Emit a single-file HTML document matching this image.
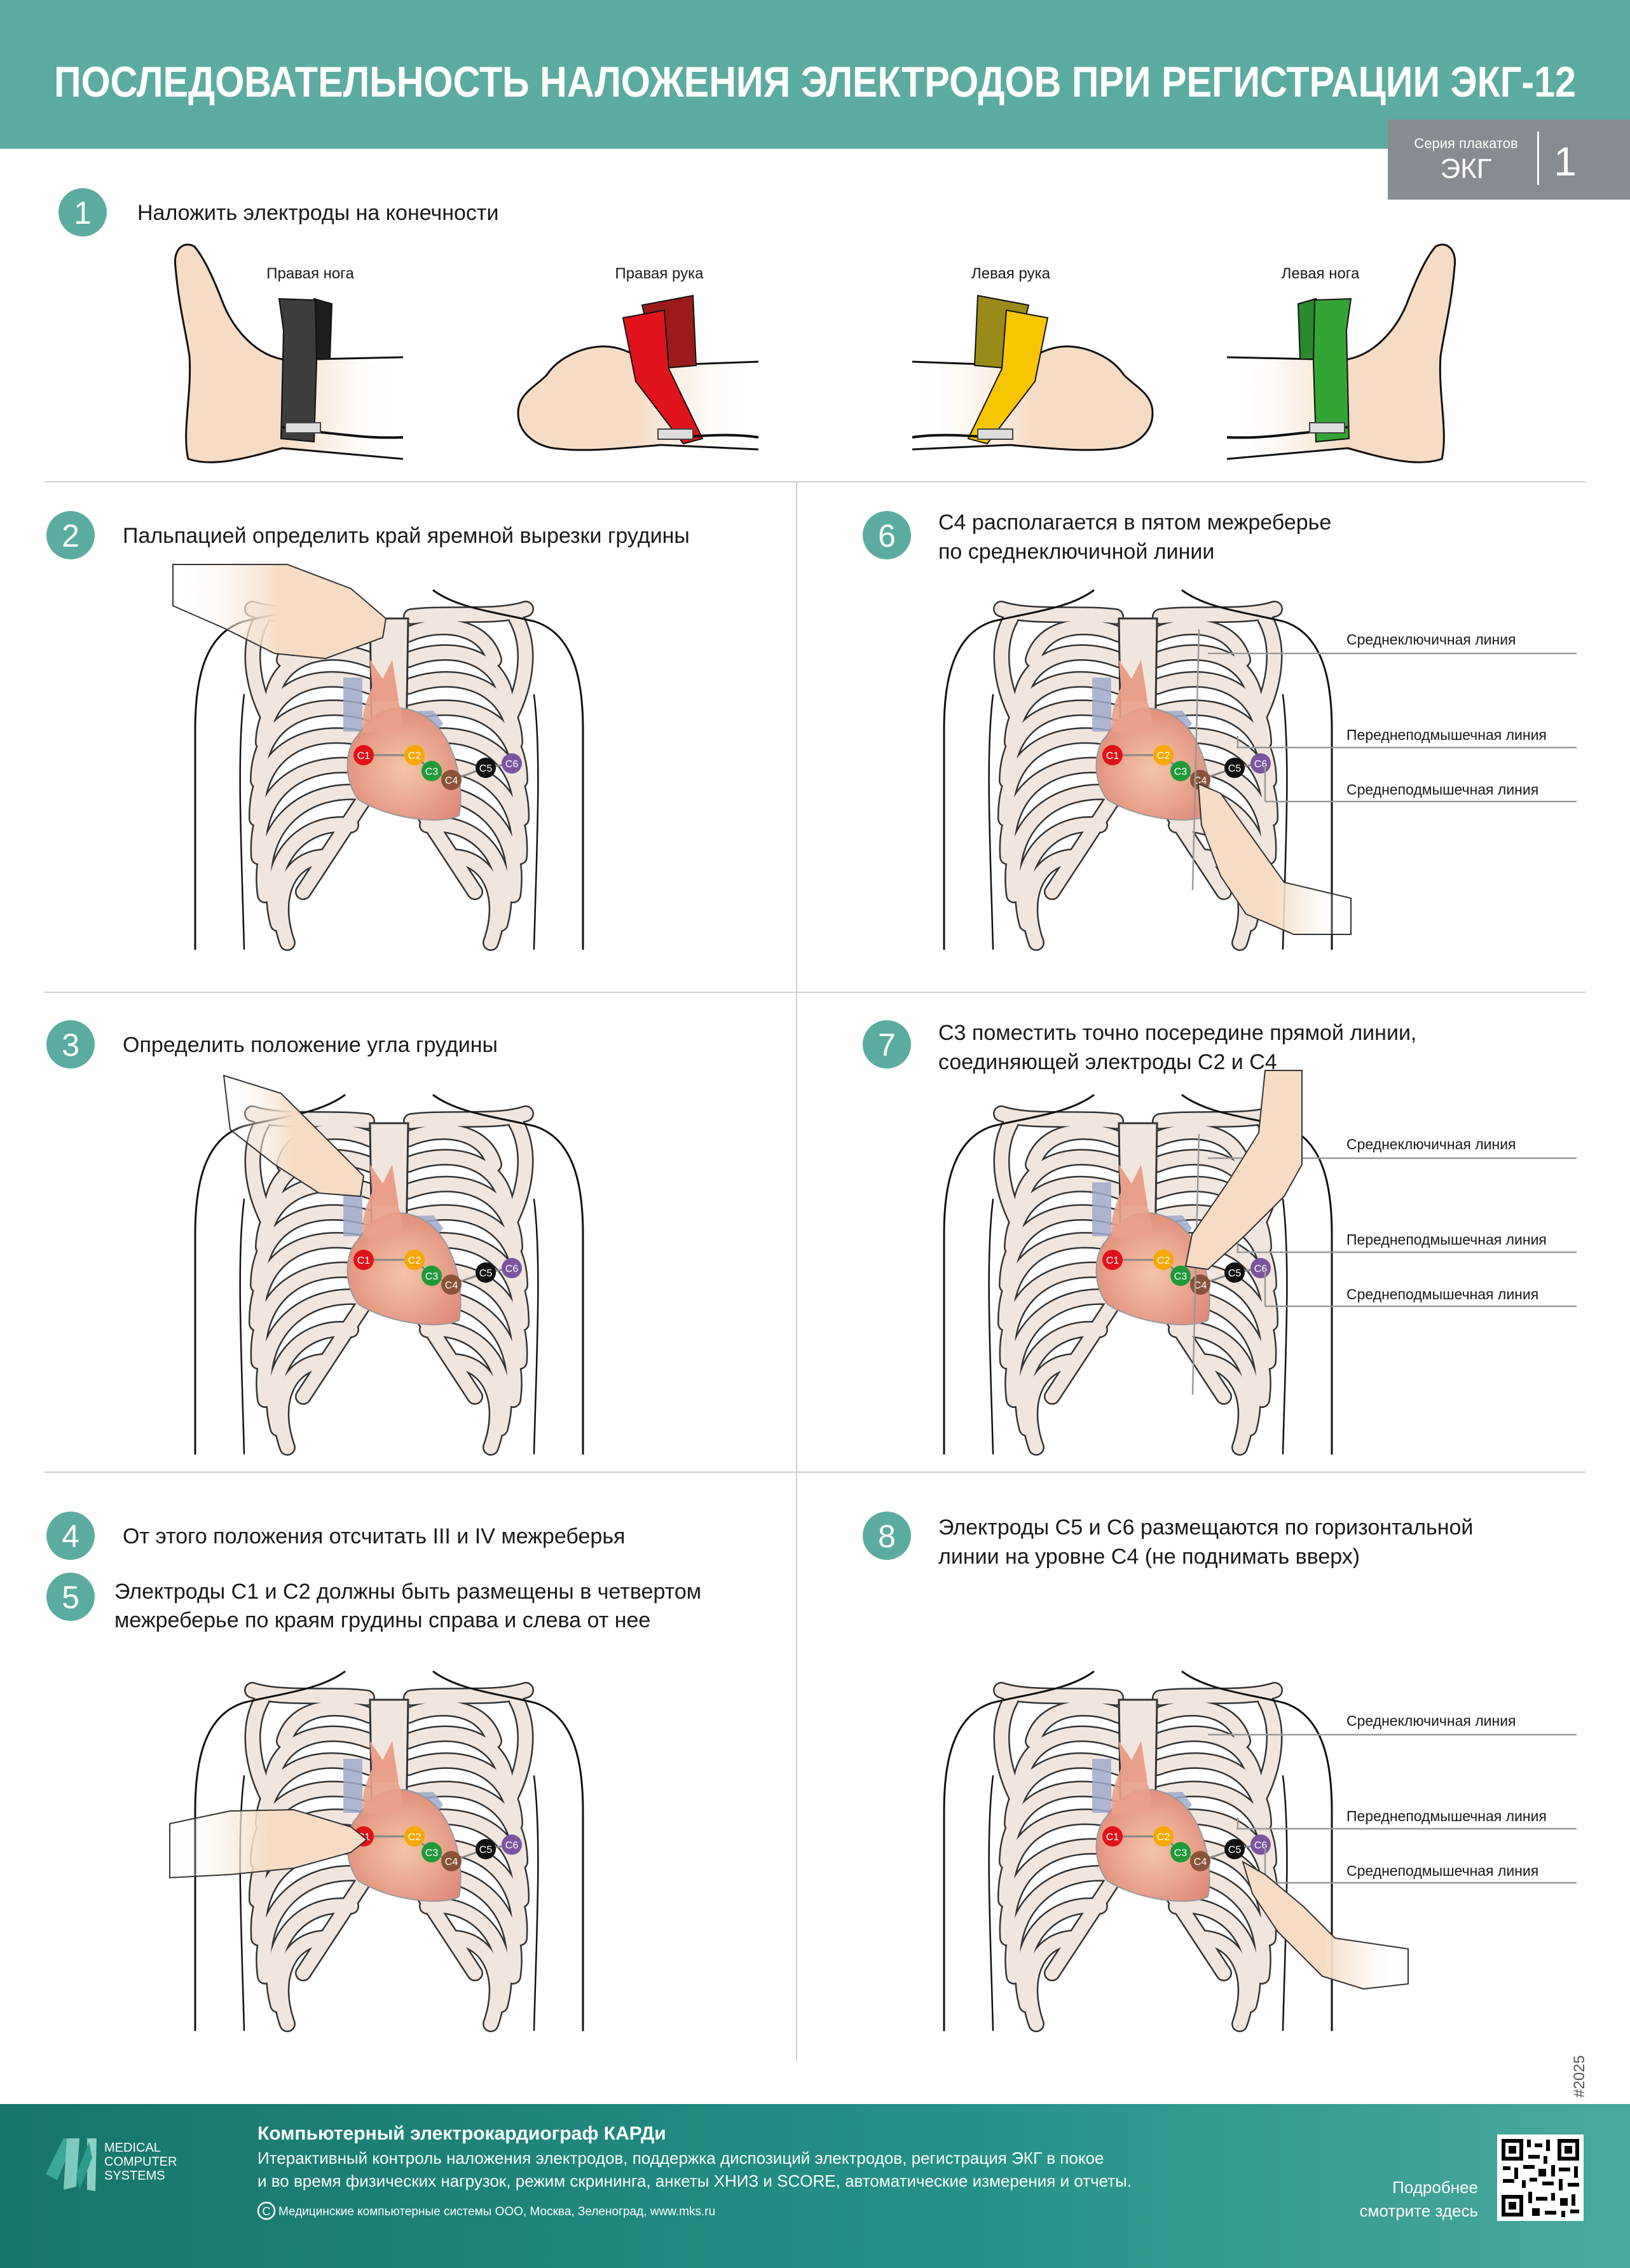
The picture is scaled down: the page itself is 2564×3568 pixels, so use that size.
<!DOCTYPE html>
<html><head><meta charset="utf-8">
<style>
html,body{margin:0;padding:0;background:#fff;}
svg{display:block;}
text{font-family:"Liberation Sans",sans-serif;}
</style></head>
<body>
<svg xmlns="http://www.w3.org/2000/svg" width="2564" height="3568" viewBox="0 0 2564 3568">
<defs>
  <radialGradient id="hg" cx="0.5" cy="0.55" r="0.6">
    <stop offset="0" stop-color="#f3c6a6"/><stop offset="1" stop-color="#e08a78"/>
  </radialGradient>
  <linearGradient id="fg" x1="0" x2="1">
    <stop offset="0" stop-color="#17756b"/><stop offset="0.6" stop-color="#25928a"/><stop offset="1" stop-color="#4aa99e"/>
  </linearGradient>
  <linearGradient id="skinL" x1="0" x2="1">
    <stop offset="0" stop-color="#fff" stop-opacity="0"/><stop offset="0.5" stop-color="#f6dcc4"/><stop offset="1" stop-color="#f6dcc4"/>
  </linearGradient>
  <linearGradient id="skinR" x1="0" x2="1">
    <stop offset="0" stop-color="#f6dcc4"/><stop offset="0.5" stop-color="#f6dcc4"/><stop offset="1" stop-color="#fff" stop-opacity="0"/>
  </linearGradient>
  <g id="ribsL" fill="none" stroke-linecap="round">
    <g stroke="#333" stroke-width="26">
      <path d="M-30,-190 C-80,-212 -150,-205 -165,-150"/>
      <path d="M-30,-150 C-100,-178 -180,-155 -185,-80"/>
      <path d="M-30,-108 C-110,-138 -195,-108 -198,-20"/>
      <path d="M-30,-66 C-120,-92 -205,-60 -206,40"/>
      <path d="M-30,-24 C-125,-48 -210,-10 -208,100"/>
      <path d="M-30,20 C-130,0 -212,50 -205,160"/>
      <path d="M-32,60 C-130,45 -210,110 -195,220"/>
      <path d="M-60,110 C-140,100 -200,170 -175,265"/>
      <path d="M-105,160 C-160,165 -185,225 -160,295"/>
      <path d="M-30,55 L-135,215"/>
      <path d="M-215,-230 C-170,-215 -90,-225 -35,-218"/>
      <path d="M-200,-215 C-225,-170 -215,-110 -190,-60"/>
    </g>
    <g stroke="#f1e6de" stroke-width="21">
      <path d="M-30,-190 C-80,-212 -150,-205 -165,-150"/>
      <path d="M-30,-150 C-100,-178 -180,-155 -185,-80"/>
      <path d="M-30,-108 C-110,-138 -195,-108 -198,-20"/>
      <path d="M-30,-66 C-120,-92 -205,-60 -206,40"/>
      <path d="M-30,-24 C-125,-48 -210,-10 -208,100"/>
      <path d="M-30,20 C-130,0 -212,50 -205,160"/>
      <path d="M-32,60 C-130,45 -210,110 -195,220"/>
      <path d="M-60,110 C-140,100 -200,170 -175,265"/>
      <path d="M-105,160 C-160,165 -185,225 -160,295"/>
      <path d="M-30,55 L-135,215"/>
      <path d="M-215,-230 C-170,-215 -90,-225 -35,-218"/>
      <path d="M-200,-215 C-225,-170 -215,-110 -190,-60"/>
    </g>
    <path d="M-70,-259 C-110,-230 -170,-225 -230,-210 C-290,-190 -305,-120 -305,-40 L-305,305" stroke="#111" stroke-width="3"/>
    <path d="M-228,-95 C-240,0 -232,150 -228,305" stroke="#111" stroke-width="2.5"/>
  </g>
  <g id="chest">
    <use href="#ribsL"/>
    <use href="#ribsL" transform="scale(-1,1)"/>
    <path d="M-30,-215 L30,-215 L26,50 L12,60 L0,85 L-12,60 L-26,50 Z" fill="#f1e6de" stroke="#333" stroke-width="3"/>
    <rect x="-72" y="-122" width="30" height="85" fill="#9fa9cc" opacity="0.85"/>
    <path d="M-30,-150 L-10,-120 L5,-150 L15,-85 L-25,-85 Z" fill="#e9a088"/>
    <path d="M-8,-68 L70,-70 L85,-50 L70,-30 L-8,-30 Z" fill="#9fa9cc" opacity="0.85"/>
    <path d="M-50,-30 C-70,-10 -72,40 -48,70 C0,100 80,110 110,95 C120,40 100,-40 50,-65 C20,-80 -20,-80 -50,-30 Z" fill="url(#hg)" stroke="#999" stroke-width="2"/>
    <path d="M-25,-110 C-40,-80 -45,-50 -40,-35 L20,-40 C25,-70 10,-100 -5,-110 Z" fill="#e9a088" opacity="0.9"/>
    <g fill="none" stroke="#888" stroke-width="3">
      <path d="M-40,0 L40,0 L67,25 L98,39 L152,20 L193,13"/>
    </g>
    <circle cx="-40" cy="0" r="16" fill="#e0121b"/>
    <circle cx="40" cy="0" r="16" fill="#f5a800"/>
    <circle cx="67" cy="25" r="16" fill="#1f9a3a"/>
    <circle cx="98" cy="39" r="16" fill="#8b5238"/>
    <circle cx="152" cy="20" r="16" fill="#111"/>
    <circle cx="193" cy="13" r="16" fill="#7b55a0"/>
    <g fill="#fff" font-size="16" text-anchor="middle">
      <text x="-40" y="6">C1</text><text x="40" y="6">C2</text><text x="67" y="31">C3</text>
      <text x="98" y="45">C4</text><text x="152" y="26">C5</text><text x="193" y="19">C6</text>
    </g>
  </g>
  <g id="lines" fill="none" stroke="#999" stroke-width="2.5">
    <path d="M110,-160 L690,-160"/>
    <path d="M155,-12 L690,-12"/>
    <path d="M200,73 L690,73"/>
    <path d="M200,15 L200,73"/>
    <path d="M157,-30 L157,-12"/>
  </g>
</defs>

<!-- header -->
<rect x="0" y="0" width="2564" height="234" fill="#5caba1"/>
<text x="1282" y="152" fill="#fff" font-size="68" font-weight="bold" text-anchor="middle" textLength="2394" lengthAdjust="spacingAndGlyphs">ПОСЛЕДОВАТЕЛЬНОСТЬ НАЛОЖЕНИЯ ЭЛЕКТРОДОВ ПРИ РЕГИСТРАЦИИ ЭКГ-12</text>
<rect x="2183" y="188" width="381" height="126" fill="#878c93"/>
<text x="2306" y="233" fill="#fff" font-size="22" text-anchor="middle">Серия плакатов</text>
<text x="2306" y="280" fill="#fff" font-size="44" text-anchor="middle">ЭКГ</text>
<rect x="2418" y="207" width="3" height="84" fill="#fff"/>
<text x="2462" y="276" fill="#fff" font-size="64" text-anchor="middle">1</text>

<!-- separators -->
<g stroke="#cfcfcf" stroke-width="2">
  <line x1="70" y1="758" x2="2494" y2="758"/>
  <line x1="70" y1="1561" x2="2494" y2="1561"/>
  <line x1="70" y1="2316" x2="2494" y2="2316"/>
  <line x1="1253" y1="758" x2="1253" y2="3242"/>
</g>

<!-- step numbers -->
<g fill="#5caba1">
  <circle cx="130" cy="334" r="38"/><circle cx="111" cy="842" r="38"/><circle cx="1395" cy="842" r="38"/>
  <circle cx="111" cy="1643" r="38"/><circle cx="1395" cy="1643" r="38"/><circle cx="111" cy="2416" r="38"/>
  <circle cx="111" cy="2512" r="38"/><circle cx="1395" cy="2416" r="38"/>
</g>
<g fill="#fff" font-size="50" text-anchor="middle">
  <text x="130" y="352">1</text><text x="111" y="860">2</text><text x="1395" y="860">6</text>
  <text x="111" y="1661">3</text><text x="1395" y="1661">7</text><text x="111" y="2434">4</text>
  <text x="111" y="2530">5</text><text x="1395" y="2434">8</text>
</g>
<g fill="#1a1a1a" font-size="34">
  <text x="216" y="346">Наложить электроды на конечности</text>
  <text x="193" y="854">Пальпацией определить край яремной вырезки грудины</text>
  <text x="1476" y="833">С4 располагается в пятом межреберье</text>
  <text x="1476" y="879">по среднеключичной линии</text>
  <text x="193" y="1655">Определить положение угла грудины</text>
  <text x="1476" y="1636">С3 поместить точно посередине прямой линии,</text>
  <text x="1476" y="1682">соединяющей электроды С2 и С4</text>
  <text x="193" y="2428">От этого положения отсчитать III и IV межреберья</text>
  <text x="180" y="2515">Электроды С1 и С2 должны быть размещены в четвертом</text>
  <text x="180" y="2560">межреберье по краям грудины справа и слева от нее</text>
  <text x="1476" y="2414">Электроды С5 и С6 размещаются по горизонтальной</text>
  <text x="1476" y="2460">линии на уровне С4 (не поднимать вверх)</text>
</g>

<!-- limbs -->
<g font-size="24" fill="#1a1a1a" text-anchor="middle">
  <text x="488" y="438">Правая нога</text><text x="1037" y="438">Правая рука</text>
  <text x="1590" y="438">Левая рука</text><text x="2077" y="438">Левая нога</text>
</g>
<g id="legL">
  <path d="M1930,562 L2115,566 C2160,560 2195,520 2212,480 C2235,420 2248,400 2258,388 C2275,378 2292,392 2288,420 C2283,480 2272,520 2266,560 C2262,620 2278,680 2268,722 C2230,735 2180,722 2120,705 L1930,722 Z" fill="url(#skinL)"/>
  <path d="M1930,562 L2115,566 C2160,560 2195,520 2212,480 C2235,420 2248,400 2258,388 C2275,378 2292,392 2288,420 C2283,480 2272,520 2266,560 C2262,620 2278,680 2268,722 C2230,735 2180,722 2120,705 L1930,722" fill="none" stroke="#111" stroke-width="3"/>
  <path d="M2042,478 L2070,470 L2072,565 L2045,565 Z" fill="#2a8a2c" stroke="#111" stroke-width="2"/>
  <path d="M2068,472 L2125,470 L2118,520 L2122,690 L2070,695 L2066,570 Z" fill="#33a535" stroke="#111" stroke-width="2"/>
  <path d="M1930,688 C1980,690 2010,685 2060,680 L2120,672" fill="none" stroke="#111" stroke-width="4"/>
  <rect x="2060" y="665" width="55" height="16" fill="#ddd" stroke="#444" stroke-width="2"/>
</g>
<g transform="translate(2564,0) scale(-1,1)">
  <path d="M1930,562 L2115,566 C2160,560 2195,520 2212,480 C2235,420 2248,400 2258,388 C2275,378 2292,392 2288,420 C2283,480 2272,520 2266,560 C2262,620 2278,680 2268,722 C2230,735 2180,722 2120,705 L1930,722 Z" fill="url(#skinL)"/>
  <path d="M1930,562 L2115,566 C2160,560 2195,520 2212,480 C2235,420 2248,400 2258,388 C2275,378 2292,392 2288,420 C2283,480 2272,520 2266,560 C2262,620 2278,680 2268,722 C2230,735 2180,722 2120,705 L1930,722" fill="none" stroke="#111" stroke-width="3"/>
  <path d="M2042,478 L2070,470 L2072,565 L2045,565 Z" fill="#1e1e1e" stroke="#111" stroke-width="2"/>
  <path d="M2068,472 L2125,470 L2118,520 L2122,690 L2070,695 L2066,570 Z" fill="#3d3d3d" stroke="#111" stroke-width="2"/>
  <path d="M1930,688 C1980,690 2010,685 2060,680 L2120,672" fill="none" stroke="#111" stroke-width="4"/>
  <rect x="2060" y="665" width="55" height="16" fill="#ddd" stroke="#444" stroke-width="2"/>
</g>
<g id="armR">
  <path d="M1193,569 L1030,575 C1000,560 980,545 950,545 C920,545 880,560 860,590 C840,610 815,620 815,650 C815,680 840,700 870,705 C920,712 980,705 1040,700 L1193,707 Z" fill="url(#skinR)"/>
  <path d="M1193,569 L1030,575 C1000,560 980,545 950,545 C920,545 880,560 860,590 C840,610 815,620 815,650 C815,680 840,700 870,705 C920,712 980,705 1040,700 L1193,707" fill="none" stroke="#111" stroke-width="3"/>
  <path d="M1010,480 L1090,465 L1095,575 L1035,580 Z" fill="#9b1b1b" stroke="#111" stroke-width="2"/>
  <path d="M980,500 L1045,488 L1052,580 L1105,690 L1075,698 L1000,600 Z" fill="#e0121b" stroke="#111" stroke-width="2"/>
  <path d="M1040,690 C1080,688 1140,680 1193,688" fill="none" stroke="#111" stroke-width="4"/>
  <rect x="1035" y="675" width="55" height="16" fill="#ddd" stroke="#444" stroke-width="2"/>
</g>
<g transform="translate(2628,0) scale(-1,1)">
  <path d="M1193,569 L1030,575 C1000,560 980,545 950,545 C920,545 880,560 860,590 C840,610 815,620 815,650 C815,680 840,700 870,705 C920,712 980,705 1040,700 L1193,707 Z" fill="url(#skinR)"/>
  <path d="M1193,569 L1030,575 C1000,560 980,545 950,545 C920,545 880,560 860,590 C840,610 815,620 815,650 C815,680 840,700 870,705 C920,712 980,705 1040,700 L1193,707" fill="none" stroke="#111" stroke-width="3"/>
  <path d="M1010,480 L1090,465 L1095,575 L1035,580 Z" fill="#9a8a1a" stroke="#111" stroke-width="2"/>
  <path d="M980,500 L1045,488 L1052,580 L1105,690 L1075,698 L1000,600 Z" fill="#f7c600" stroke="#111" stroke-width="2"/>
  <path d="M1040,690 C1080,688 1140,680 1193,688" fill="none" stroke="#111" stroke-width="4"/>
  <rect x="1035" y="675" width="55" height="16" fill="#ddd" stroke="#444" stroke-width="2"/>
</g>

<!-- chests -->
<use href="#chest" x="612" y="1188"/>
<use href="#chest" x="612" y="1982"/>
<use href="#chest" x="612" y="2889"/>
<use href="#chest" x="1790" y="1188"/>
<use href="#chest" x="1790" y="1982"/>
<use href="#chest" x="1790" y="2889"/>

<!-- lines right column -->
<use href="#lines" x="1790" y="1188"/>
<use href="#lines" x="1790" y="1982"/>
<use href="#lines" x="1790" y="2889"/>
<g stroke="#999" stroke-width="2.5">
  <line x1="1886" y1="990" x2="1876" y2="1400"/>
  <line x1="1886" y1="1784" x2="1876" y2="2194"/>
</g>
<g font-size="23" fill="#1a1a1a">
  <text x="2118" y="1014">Среднеключичная линия</text>
  <text x="2118" y="1164">Переднеподмышечная линия</text>
  <text x="2118" y="1250">Среднеподмышечная линия</text>
  <text x="2118" y="1808">Среднеключичная линия</text>
  <text x="2118" y="1958">Переднеподмышечная линия</text>
  <text x="2118" y="2044">Среднеподмышечная линия</text>
  <text x="2118" y="2715">Среднеключичная линия</text>
  <text x="2118" y="2865">Переднеподмышечная линия</text>
  <text x="2118" y="2951">Среднеподмышечная линия</text>
</g>

<!-- hands -->
<g stroke="#333" stroke-width="2">
  <path transform="translate(612,1188)" d="M-340,-300 L-160,-300 L-60,-262 L-5,-215 L-10,-185 L-100,-152 L-180,-160 L-260,-200 L-340,-235 Z" fill="url(#skinL)"/>
  <path transform="translate(612,1982)" d="M-260,-290 L-170,-262 L-100,-192 L-40,-132 L-45,-100 L-110,-105 L-180,-150 L-250,-205 Z" fill="url(#skinL)"/>
  <path transform="translate(612,2889)" d="M-345,-20 L-250,-40 L-150,-42 L-60,-15 L-35,5 L-60,25 L-150,50 L-250,60 L-345,65 Z" fill="url(#skinL)"/>
  <path transform="translate(1790,1188)" d="M95,45 L130,60 L180,130 L230,200 L335,225 L335,282 L245,282 L170,250 L130,190 L100,110 Z" fill="url(#skinR)"/>
  <path transform="translate(1790,1982)" d="M258,-298 L200,-298 L190,-200 L140,-120 L85,-40 L75,10 L110,15 L170,-40 L230,-100 L258,-150 Z" fill="#f6dcc4"/>
  <path transform="translate(1790,2889)" d="M165,40 L200,60 L260,110 L310,160 L425,177 L425,232 L355,240 L290,220 L220,150 L180,90 Z" fill="url(#skinR)"/>
</g>

<text transform="translate(2492,3300) rotate(-90)" font-size="24" fill="#555">#2025</text>

<!-- footer -->
<rect x="0" y="3310" width="2564" height="258" fill="url(#fg)"/>
<path d="M100,3364 L118,3364 L90,3430 L72,3420 Z" fill="#3aa89a"/>
<path d="M105,3364 L125,3364 L120,3440 L100,3445 Z" fill="#7fcac0"/>
<path d="M137,3364 L152,3364 L150,3447 L137,3445 Z" fill="#8ad0c6"/>
<path d="M120,3420 L140,3370 L145,3395 L125,3445 Z" fill="#2c9b8e"/>
<g fill="#fff" font-size="20">
  <text x="164" y="3385">MEDICAL</text><text x="164" y="3407">COMPUTER</text><text x="164" y="3429">SYSTEMS</text>
</g>
<text x="405" y="3366" fill="#fff" font-size="30" font-weight="bold">Компьютерный электрокардиограф КАРДи</text>
<text x="405" y="3404" fill="#fff" font-size="26">Итерактивный контроль наложения электродов, поддержка диспозиций электродов, регистрация ЭКГ в покое</text>
<text x="405" y="3440" fill="#fff" font-size="26">и во время физических нагрузок, режим скрининга, анкеты ХНИЗ и SCORE, автоматические измерения и отчеты.</text>
<circle cx="419" cy="3478" r="13" fill="none" stroke="#fff" stroke-width="2.5"/>
<text x="419" y="3485" fill="#fff" font-size="18" text-anchor="middle">C</text>
<text x="438" y="3485" fill="#fff" font-size="19">Медицинские компьютерные системы ООО,  Москва, Зеленоград, www.mks.ru</text>
<text x="2325" y="3450" fill="#fff" font-size="26" text-anchor="end">Подробнее</text>
<text x="2325" y="3487" fill="#fff" font-size="26" text-anchor="end">смотрите здесь</text>
<rect x="2355" y="3358" width="136" height="136" fill="#fff"/>
<g fill="#000">
  <rect x="2362" y="3365" width="34" height="34"/><rect x="2368" y="3371" width="22" height="22" fill="#fff"/><rect x="2373" y="3376" width="12" height="12"/>
  <rect x="2450" y="3365" width="34" height="34"/><rect x="2456" y="3371" width="22" height="22" fill="#fff"/><rect x="2461" y="3376" width="12" height="12"/>
  <rect x="2362" y="3453" width="34" height="34"/><rect x="2368" y="3459" width="22" height="22" fill="#fff"/><rect x="2373" y="3464" width="12" height="12"/>
  <rect x="2402" y="3366" width="6" height="12"/><rect x="2414" y="3372" width="12" height="6"/><rect x="2432" y="3366" width="6" height="18"/>
  <rect x="2404" y="3390" width="18" height="6"/><rect x="2428" y="3392" width="6" height="12"/><rect x="2364" y="3408" width="12" height="6"/>
  <rect x="2382" y="3410" width="6" height="18"/><rect x="2396" y="3406" width="18" height="6"/><rect x="2420" y="3412" width="12" height="12"/>
  <rect x="2440" y="3406" width="6" height="18"/><rect x="2452" y="3410" width="18" height="6"/><rect x="2476" y="3408" width="6" height="18"/>
  <rect x="2364" y="3428" width="18" height="6"/><rect x="2394" y="3430" width="6" height="12"/><rect x="2406" y="3426" width="12" height="6"/>
  <rect x="2426" y="3432" width="18" height="6"/><rect x="2452" y="3428" width="6" height="18"/><rect x="2466" y="3434" width="18" height="6"/>
  <rect x="2404" y="3448" width="6" height="18"/><rect x="2416" y="3456" width="18" height="6"/><rect x="2440" y="3450" width="6" height="12"/>
  <rect x="2454" y="3458" width="12" height="12"/><rect x="2472" y="3452" width="6" height="18"/><rect x="2410" y="3474" width="12" height="12"/>
  <rect x="2430" y="3478" width="18" height="6"/><rect x="2456" y="3478" width="6" height="10"/><rect x="2470" y="3476" width="14" height="6"/>
</g>
</svg>
</body></html>
